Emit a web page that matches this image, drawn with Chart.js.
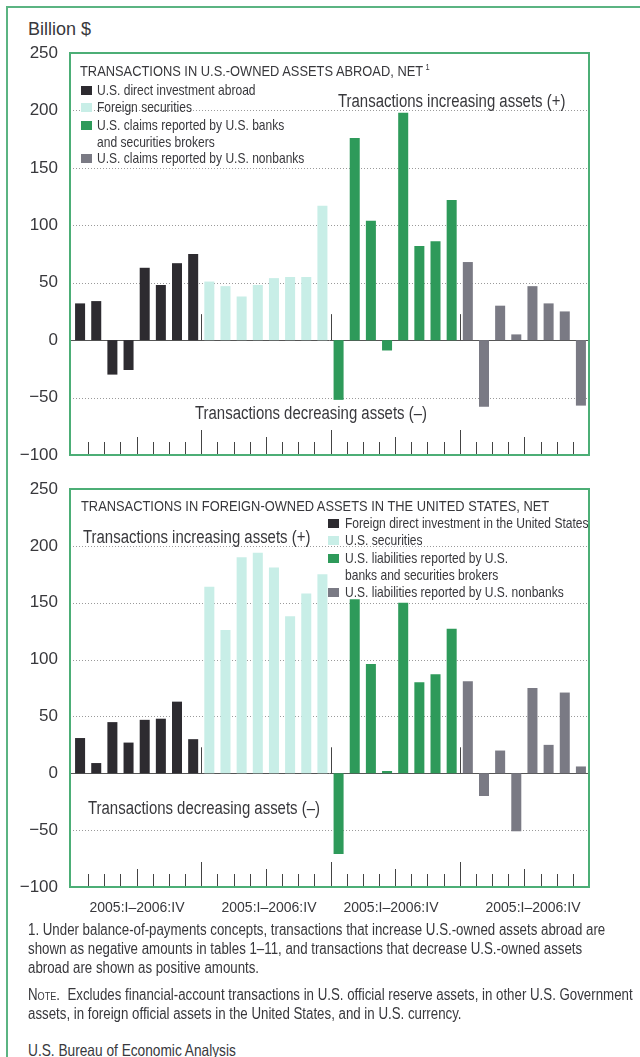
<!DOCTYPE html>
<html>
<head>
<meta charset="utf-8">
<script src="https://cdn.jsdelivr.net/npm/chart.js@4.4.1/dist/chart.umd.min.js"></script>
<style>
  body { margin: 0; background: #fff; }
  #page { position: relative; width: 640px; height: 1057px; overflow: hidden;
          font-family: "Liberation Sans", Arial, sans-serif; color: #38383c; }
  .frame { position: absolute; left: 6px; top: 6px; width: 700px; height: 1100px;
           border: 2px solid #5bb482; }
  .t { position: absolute; white-space: nowrap; line-height: 1; }
  .c { transform: scaleX(0.83); transform-origin: 0 50%; }
  .sw { position: absolute; width: 11px; height: 9px; }
  canvas { position: absolute; left: 0; }
  sup { font-size: 9px; vertical-align: 6px; margin-left: 3px; }
</style>
</head>
<body>
<div id="page">
  <div class="frame"></div>
  <canvas id="abroad" width="640" height="430" style="top:40px"></canvas>
  <canvas id="foreign" width="640" height="430" style="top:475px"></canvas>
</div>
<script>
const quarters = ['2005:I', '2005:II', '2005:III', '2005:IV', '2006:I', '2006:II', '2006:III', '2006:IV'];
const yTicks = [250, 200, 150, 100, 50, 0, -50, -100];
const groupLabel = '2005:I\u20132006:IV';

// U.S.-owned assets abroad, billion $
const abroadNames = ['U.S. direct investment abroad', 'Foreign securities',
  'U.S. claims reported by U.S. banks and securities brokers', 'U.S. claims reported by U.S. nonbanks'];
const abroadDirect = [32, 34, -30, -26, 63, 48, 67, 75];
const abroadSecurities = [51, 47, 38, 48, 54, 55, 55, 117];
const abroadBanks = [-52, 176, 104, -9, 198, 82, 86, 122];
const abroadNonbanks = [68, -58, 30, 5, 47, 32, 25, -57];

// foreign-owned assets in the U.S., billion $
const foreignNames = ['Foreign direct investment in the United States', 'U.S. securities',
  'U.S. liabilities reported by U.S. banks and securities brokers', 'U.S. liabilities reported by U.S. nonbanks'];
const foreignDirect = [31, 9, 45, 27, 47, 48, 63, 30];
const foreignSecurities = [164, 126, 190, 194, 181, 138, 158, 175];
const foreignBanks = [-71, 153, 96, 2, 150, 80, 87, 127];
const foreignNonbanks = [81, -20, 20, -51, 75, 25, 71, 6];

const colors = ['#2d2b30', '#c8eee7', '#2e9a5a', '#7a7a84'];
const frameGreen = '#4cae76';

const page = document.getElementById('page');

function addText(str, x, yc, size, cls, extra) {
    const d = document.createElement('div');
    d.className = 't' + (cls ? ' ' + cls : '');
    d.style.left = x + 'px';
    d.style.top = (yc - size * 0.49) + 'px';
    d.style.fontSize = size + 'px';
    d.innerHTML = str;
    if (extra) Object.assign(d.style, extra);
    page.appendChild(d);
    return d;
}

function addSwatch(x, yc, color) {
    const s = document.createElement('div');
    s.className = 'sw';
    s.style.left = x + 'px';
    s.style.top = (yc - 4) + 'px';
    s.style.background = color;
    page.appendChild(s);
}

const decor = {
    id: 'decor',
    beforeDatasetsDraw(chart) {
        const {ctx, chartArea: a, scales: {y}} = chart;
        ctx.save();
        ctx.strokeStyle = '#9a9a9a';
        ctx.lineWidth = 1;
        ctx.setLineDash([1, 2]);
        for (const v of yTicks) {
            if (v === 0 || v === 250 || v === -100) continue;
            const py = Math.round(y.getPixelForValue(v)) + 0.5;
            ctx.beginPath();
            ctx.moveTo(a.left - 2, py);
            ctx.lineTo(a.right, py);
            ctx.stroke();
        }
        ctx.setLineDash([]);
        ctx.strokeStyle = '#555';
        const zy = Math.round(y.getPixelForValue(0)) + 0.5;
        ctx.beginPath();
        ctx.moveTo(a.left - 2, zy);
        ctx.lineTo(a.right, zy);
        ctx.stroke();
        ctx.restore();
    },
    afterDatasetsDraw(chart) {
        const {ctx, chartArea: a, scales: {x, y}} = chart;
        ctx.save();
        ctx.strokeStyle = '#444';
        ctx.lineWidth = 1;
        const zy = y.getPixelForValue(0);
        for (let i = 1; i < 32; i++) {
            const px = Math.round((x.getPixelForValue(i - 1) + x.getPixelForValue(i)) / 2) + 0.5;
            const len = i % 8 === 0 ? 25 : (i % 4 === 0 ? 18 : 13);
            ctx.beginPath();
            ctx.moveTo(px, a.bottom);
            ctx.lineTo(px, a.bottom - len);
            ctx.stroke();
            if (i % 8 === 0) {
                ctx.beginPath();
                ctx.moveTo(px, zy);
                ctx.lineTo(px, zy - 26);
                ctx.stroke();
            }
        }
        ctx.strokeStyle = frameGreen;
        ctx.lineWidth = 2;
        ctx.strokeRect(a.left - 2, a.top, a.right - a.left + 2, a.bottom - a.top);
        ctx.restore();
    }
};

function makePanel(id, groups, pad) {
    const labels = [];
    groups.forEach((g, gi) => quarters.forEach(q => labels.push(gi + ' ' + q)));
    const datasets = groups.map((g, gi) => ({
        label: g.name,
        data: labels.map((_, i) => Math.floor(i / 8) === gi ? g.values[i % 8] : null),
        backgroundColor: colors[gi],
        borderWidth: 0,
        grouped: false,
        barPercentage: 0.62,
        categoryPercentage: 1
    }));

    new Chart(document.getElementById(id), {
        type: 'bar',
        data: {labels: labels, datasets: datasets},
        options: {
            responsive: false,
            animation: false,
            devicePixelRatio: 1,
            layout: {padding: pad},
            plugins: {legend: {display: false}, tooltip: {enabled: false}},
            scales: {
                x: {display: false},
                y: {
                    min: -100,
                    max: 250,
                    afterFit: s => {
                        s.width = 72;
                        s.paddingTop = 0;   // keep the plot box exactly where the padding puts it
                        s.paddingBottom = 0;
                    },
                    afterBuildTicks: s => { s.ticks = yTicks.map(v => ({value: v})); },
                    grid: {display: false, drawTicks: false},
                    border: {display: false},
                    ticks: {
                        padding: 14,
                        color: '#38383c',
                        font: {family: '"Liberation Sans", Arial, sans-serif', size: 17},
                        callback: v => v < 0 ? '\u2212' + Math.abs(v) : String(v)
                    }
                }
            }
        },
        plugins: [decor]
    });
}

makePanel('abroad', [
    {name: abroadNames[0], values: abroadDirect},
    {name: abroadNames[1], values: abroadSecurities},
    {name: abroadNames[2], values: abroadBanks},
    {name: abroadNames[3], values: abroadNonbanks}
], {top: 13, bottom: 15, left: 0, right: 51});

makePanel('foreign', [
    {name: foreignNames[0], values: foreignDirect},
    {name: foreignNames[1], values: foreignSecurities},
    {name: foreignNames[2], values: foreignBanks},
    {name: foreignNames[3], values: foreignNonbanks}
], {top: 14, bottom: 18, left: 0, right: 51});

// texts
addText('Billion $', 28, 29, 18);

addText('TRANSACTIONS IN U.S.-OWNED ASSETS ABROAD, NET<sup>1</sup>', 80, 71, 15.5, 'c');
const topRows = [[abroadNames[0], 90, 0], [abroadNames[1], 107, 1],
    ['U.S. claims reported by U.S. banks', 125, 2], ['and securities brokers', 142, -1],
    [abroadNames[3], 158, 3]];
for (const [txt, yc, ci] of topRows) {
    if (ci >= 0) addSwatch(81, yc, colors[ci]);
    addText(txt, 97, yc, 14.5, 'c');
}
addText('Transactions increasing assets (+)', 338, 101, 18, 'c');
addText('Transactions decreasing assets (\u2013)', 195, 413, 18, 'c');

addText('TRANSACTIONS IN FOREIGN-OWNED ASSETS IN THE UNITED STATES, NET', 81, 506, 15.5, 'c');
const botRows = [[foreignNames[0], 523, 0], [foreignNames[1], 540, 1],
    ['U.S. liabilities reported by U.S.', 558, 2], ['banks and securities brokers', 575, -1],
    [foreignNames[3], 592, 3]];
for (const [txt, yc, ci] of botRows) {
    if (ci >= 0) addSwatch(328, yc, colors[ci]);
    addText(txt, 345, yc, 14.5, 'c');
}
addText('Transactions increasing assets (+)', 83, 537, 18, 'c');
addText('Transactions decreasing assets (\u2013)', 88, 808, 18, 'c');

for (const cx of [137, 269, 391, 533]) {
    addText(groupLabel, cx - 70, 907, 14, '', {width: '140px', textAlign: 'center'});
}

addText('1. Under balance-of-payments concepts, transactions that increase U.S.-owned assets abroad are', 28, 930, 16, 'c');
addText('shown as negative amounts in tables 1\u201311, and transactions that decrease U.S.-owned assets', 28, 949, 16, 'c');
addText('abroad are shown as positive amounts.', 28, 968, 16, 'c');
addText('<span style="font-variant:small-caps">Note.</span>&nbsp; Excludes financial-account transactions in U.S. official reserve assets, in other U.S. Government', 28, 995, 16, 'c');
addText('assets, in foreign official assets in the United States, and in U.S. currency.', 28, 1014, 16, 'c');
addText('U.S. Bureau of Economic Analysis', 28, 1050, 16.5, 'c');
</script>
</body>
</html>
